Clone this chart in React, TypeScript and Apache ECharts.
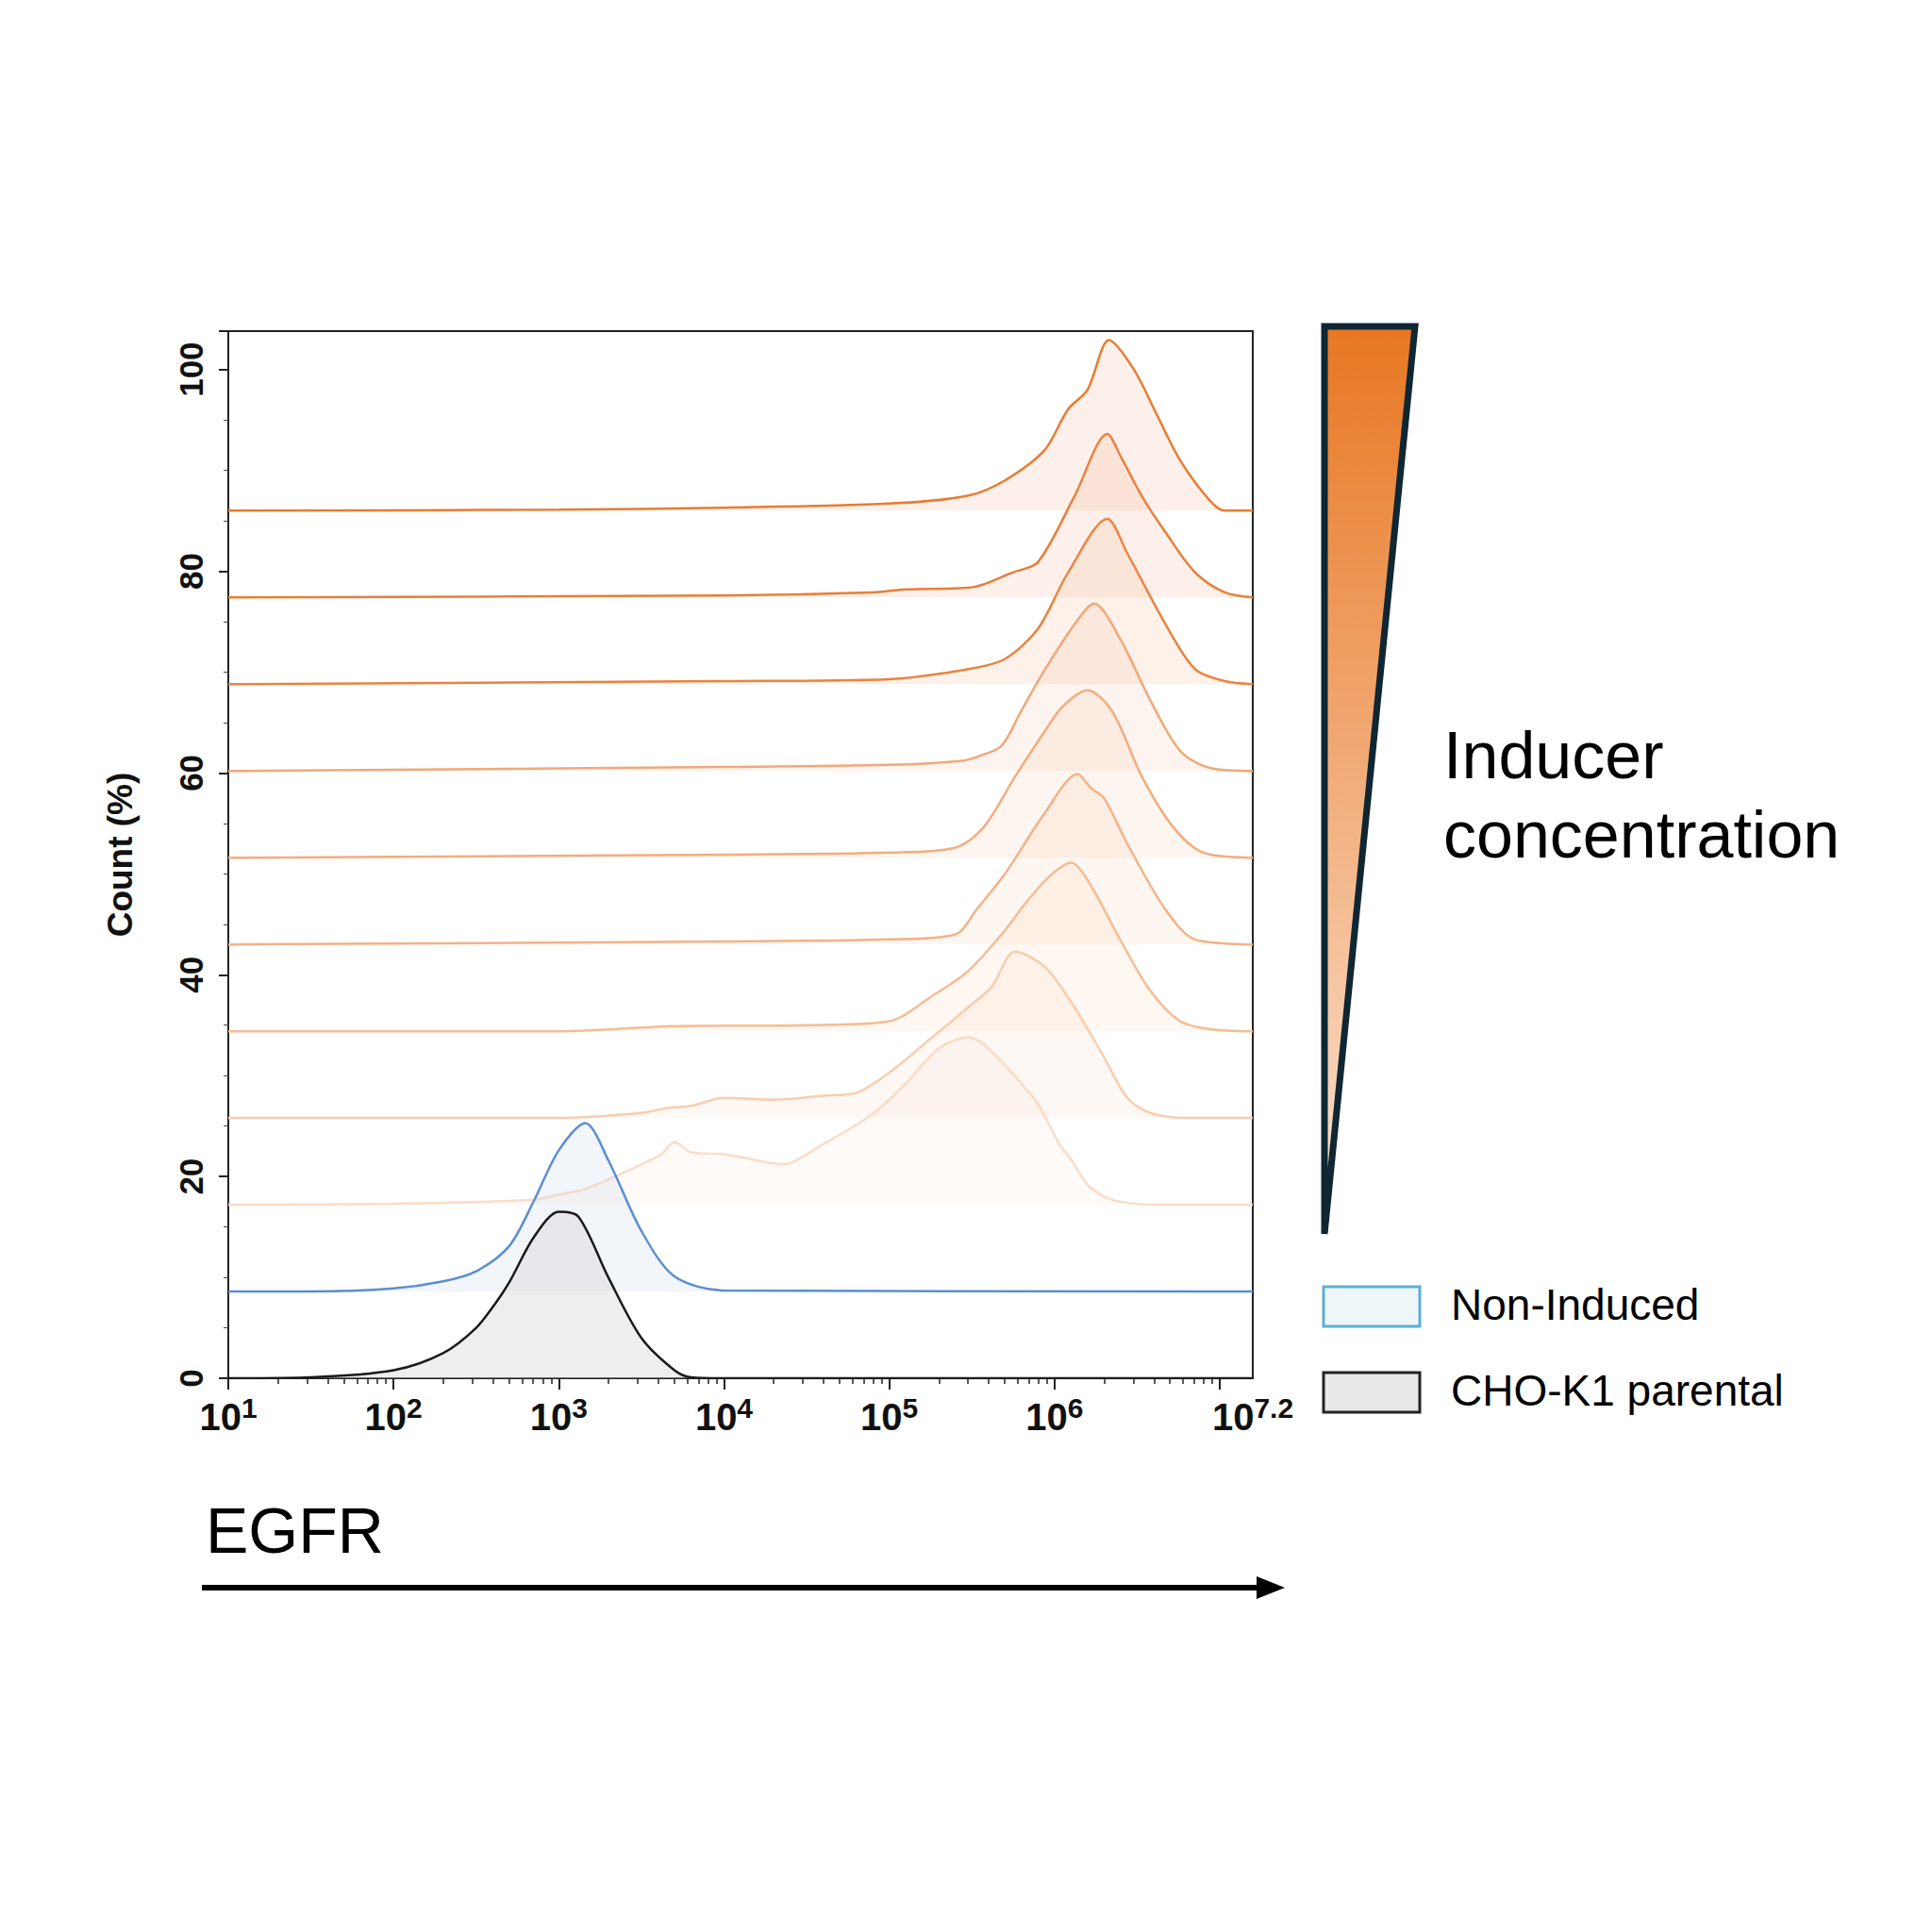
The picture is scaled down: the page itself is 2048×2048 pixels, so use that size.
import { useEffect, useRef } from "react";
import * as echarts from "echarts";

// x values are log10(EGFR); heights are % above each trace's baseline
const baselines = [17.2, 25.8, 34.4, 43, 51.6, 60.2, 68.8, 77.4, 86];
const orangeLines = ["#FBDCC6", "#F8CDAE", "#F5BC94", "#F3B286", "#F2AD7E", "#F1A878", "#E9833E", "#E97E37", "#E87C33"];
const orangeFills = [
  "rgba(250,215,190,0.16)", "rgba(248,205,175,0.2)", "rgba(246,195,160,0.2)", "rgba(245,190,150,0.2)",
  "rgba(244,185,145,0.2)", "rgba(243,180,140,0.2)", "rgba(240,165,120,0.22)", "rgba(240,160,115,0.22)", "rgba(240,160,115,0.22)",
];

const orangeCurves: number[][][] = [
  [[1, 0], [2, 0.1], [2.85, 0.5], [3, 1], [3.15, 1.5], [3.3, 2.5], [3.5, 4], [3.62, 5], [3.7, 6.2], [3.8, 5.2], [4, 5], [4.2, 4.4], [4.35, 4], [4.6, 6], [4.9, 9], [5.1, 12], [5.3, 15.5], [5.48, 16.6], [5.6, 15.5], [5.8, 12], [5.9, 10], [6.03, 6], [6.1, 4.5], [6.2, 2], [6.3, 0.8], [6.4, 0.3], [6.6, 0], [7.2, 0]],
  [[1, 0], [3, 0], [3.5, 0.5], [3.66, 1], [3.8, 1.2], [4, 2], [4.3, 1.8], [4.6, 2.2], [4.8, 2.5], [5, 4.5], [5.26, 8], [5.48, 11], [5.62, 13], [5.76, 16.5], [5.94, 15], [6.12, 11], [6.3, 6], [6.44, 2], [6.58, 0.5], [6.8, 0], [7.2, 0]],
  [[1, 0], [3, 0], [3.7, 0.5], [4.5, 0.6], [5, 1], [5.26, 3.5], [5.48, 6], [5.7, 10], [5.84, 13], [5.98, 15.5], [6.1, 16.7], [6.2, 15], [6.4, 9], [6.58, 4], [6.76, 1], [6.94, 0.2], [7.2, 0]],
  [[1, 0], [4, 0.3], [5, 0.5], [5.4, 1], [5.53, 3.5], [5.7, 7], [5.94, 13], [6.14, 16.9], [6.22, 15.5], [6.3, 14.5], [6.44, 10], [6.67, 3.5], [6.85, 0.5], [7.2, 0]],
  [[1, 0], [4, 0.3], [5, 0.5], [5.4, 1], [5.57, 3], [5.76, 8], [5.94, 12.5], [6.05, 15], [6.2, 16.6], [6.35, 14.5], [6.53, 8], [6.72, 3], [6.9, 0.5], [7.2, 0]],
  [[1, 0], [4, 0.4], [5, 0.6], [5.44, 1], [5.55, 1.5], [5.68, 2.5], [5.8, 6], [5.94, 10], [6.12, 14.5], [6.24, 16.6], [6.4, 13], [6.58, 7], [6.76, 2], [6.94, 0.3], [7.2, 0]],
  [[1, 0], [4, 0.3], [5, 0.5], [5.48, 1.5], [5.7, 2.5], [5.9, 5.5], [6.08, 11], [6.32, 16.4], [6.44, 13], [6.67, 6], [6.85, 1.5], [7.03, 0.3], [7.2, 0]],
  [[1, 0], [4, 0.2], [4.9, 0.5], [5.1, 0.8], [5.5, 1], [5.75, 2.5], [5.9, 3.5], [6.12, 10], [6.32, 16.2], [6.4, 14], [6.53, 10], [6.67, 6.5], [6.85, 2.5], [7.03, 0.5], [7.2, 0]],
  [[1, 0], [3, 0.1], [4, 0.3], [5, 0.7], [5.48, 1.5], [5.7, 3], [5.94, 6], [6.08, 10], [6.2, 12], [6.33, 16.9], [6.48, 14], [6.62, 9.5], [6.76, 5], [6.94, 1], [7.03, 0], [7.2, 0]],
];

const nonInducedBase = 8.6;
const nonInduced: number[][] = [
  [1, 0], [1.5, 0], [2, 0.3], [2.3, 1], [2.5, 2], [2.7, 4.5], [2.85, 9], [3, 14], [3.16, 16.7], [3.3, 13], [3.5, 6], [3.7, 1.5], [4, 0.1], [7.2, 0],
];
const parental: number[][] = [
  [1, 0], [1.5, 0.1], [2, 0.8], [2.3, 2.5], [2.5, 5], [2.62, 7.5], [2.7, 9.5], [2.85, 14], [3, 16.5], [3.12, 16], [3.3, 10], [3.5, 4], [3.7, 0.8], [3.8, 0.1], [4, 0], [7.2, 0],
];

const majorTicks = [1, 2, 3, 4, 5, 6, 7];
const xLabelValues = [1, 2, 3, 4, 5, 6, 7.2];
const minorTicks: number[] = [];
for (let d = 1; d < 7.2; d++) {
  for (let m = 2; m <= 9; m++) {
    const v = d + Math.log10(m);
    if (v < 7.2) minorTicks.push(v);
  }
}

const FONT = "Liberation Sans";

export default function App() {
  const ref = useRef<HTMLDivElement>(null);

  useEffect(() => {
    if (!ref.current) return;
    const chart = echarts.init(ref.current, null, { renderer: "svg" });

    const series: any[] = [];
    orangeCurves.forEach((curve, i) => {
      const base = baselines[i];
      series.push({
        type: "line",
        smooth: 0.3,
        symbol: "none",
        data: curve.map(([x, h]) => [x, base + h]),
        lineStyle: { color: orangeLines[i], width: 2.5 },
        areaStyle: { color: orangeFills[i], origin: base },
        z: 2 + i,
      });
    });
    series.push({
      type: "line", smooth: 0.3, symbol: "none",
      data: nonInduced.map(([x, h]) => [x, nonInducedBase + h]),
      lineStyle: { color: "#5B8ED0", width: 2.5 },
      areaStyle: { color: "rgba(200,215,235,0.35)", origin: nonInducedBase },
      z: 20,
    });
    series.push({
      type: "line", smooth: 0.3, symbol: "none",
      data: parental,
      lineStyle: { color: "#1a1a1a", width: 2.5 },
      areaStyle: { color: "rgba(215,215,215,0.6)", origin: 0 },
      z: 21,
    });

    const axisLabelRich = {
      b: { fontSize: 40, fontWeight: "bold", fontFamily: FONT, color: "#111" },
      s: { fontSize: 30, fontWeight: "bold", fontFamily: FONT, color: "#111", padding: [0, 0, 20, 0] },
    };

    chart.setOption({
      animation: false,
      grid: { left: 242, right: 720, top: 351, bottom: 587, show: true, borderColor: "#222", borderWidth: 2, backgroundColor: "transparent" },
      xAxis: [
        {
          type: "value", min: 1, max: 7.2,
          axisLine: { lineStyle: { color: "#222", width: 2 } },
          axisTick: { customValues: majorTicks, length: 12, lineStyle: { color: "#222", width: 2 } },
          splitLine: { show: false },
          axisLabel: {
            customValues: xLabelValues,
            margin: 16,
            formatter: (v: number) => `{b|10}{s|${v}}`,
            rich: axisLabelRich,
          },
        },
        {
          type: "value", min: 1, max: 7.2, position: "bottom",
          axisLine: { show: false },
          axisTick: { customValues: minorTicks, length: 6, lineStyle: { color: "#222", width: 1.5 } },
          axisLabel: { show: false },
          splitLine: { show: false },
        },
      ],
      yAxis: {
        type: "value", min: 0, max: 103.8, interval: 20,
        axisLine: { show: true, lineStyle: { color: "#222", width: 2 } },
        axisTick: { show: true, length: 10, lineStyle: { color: "#222", width: 2 } },
        minorTick: { show: true, splitNumber: 4, length: 5, lineStyle: { color: "#444" } },
        splitLine: { show: false },
        axisLabel: {
          rotate: 90, margin: 22, fontSize: 35, fontWeight: "bold", fontFamily: FONT, color: "#111",
          formatter: (v: number) => (v > 100 ? "" : String(v)),
        },
        name: "Count (%)",
        nameLocation: "middle",
        nameRotate: 90,
        nameGap: 96,
        nameTextStyle: { fontSize: 37, fontWeight: "bold", fontFamily: FONT, color: "#111" },
      },
      series,
      graphic: [
        { type: "text", left: 218, top: 1588, style: { text: "EGFR", fontSize: 68, fontFamily: FONT, fill: "#000" } },
        { type: "line", shape: { x1: 214, y1: 1683, x2: 1335, y2: 1683 }, style: { stroke: "#000", lineWidth: 6 } },
        { type: "polygon", shape: { points: [[1362, 1683], [1332, 1671], [1332, 1695]] }, style: { fill: "#000" } },
        {
          type: "polygon",
          shape: { points: [[1404, 346], [1500, 346], [1404, 1308]] },
          style: {
            fill: new echarts.graphic.LinearGradient(0, 0, 0, 1, [
              { offset: 0, color: "#E87722" },
              { offset: 1, color: "#FBE3D3" },
            ]),
            stroke: "#0F2633", lineWidth: 7, lineJoin: "miter",
          },
        },
        { type: "text", left: 1530, top: 766, style: { text: "Inducer", fontSize: 70, fontFamily: FONT, fill: "#000" } },
        { type: "text", left: 1530, top: 850, style: { text: "concentration", fontSize: 70, fontFamily: FONT, fill: "#000" } },
        { type: "rect", shape: { x: 1403, y: 1364, width: 102, height: 42 }, style: { fill: "#EEF6FA", stroke: "#5BB0D0", lineWidth: 3 } },
        { type: "text", left: 1538, top: 1360, style: { text: "Non-Induced", fontSize: 46, fontFamily: FONT, fill: "#000" } },
        { type: "rect", shape: { x: 1403, y: 1455, width: 102, height: 42 }, style: { fill: "#E8E8E8", stroke: "#222", lineWidth: 3 } },
        { type: "text", left: 1538, top: 1451, style: { text: "CHO-K1 parental", fontSize: 46, fontFamily: FONT, fill: "#000" } },
      ],
    });

    return () => chart.dispose();
  }, []);

  return <div ref={ref} style={{ position: "fixed", left: 0, top: 0, width: 2048, height: 2048, background: "#fff" }} />;
}
